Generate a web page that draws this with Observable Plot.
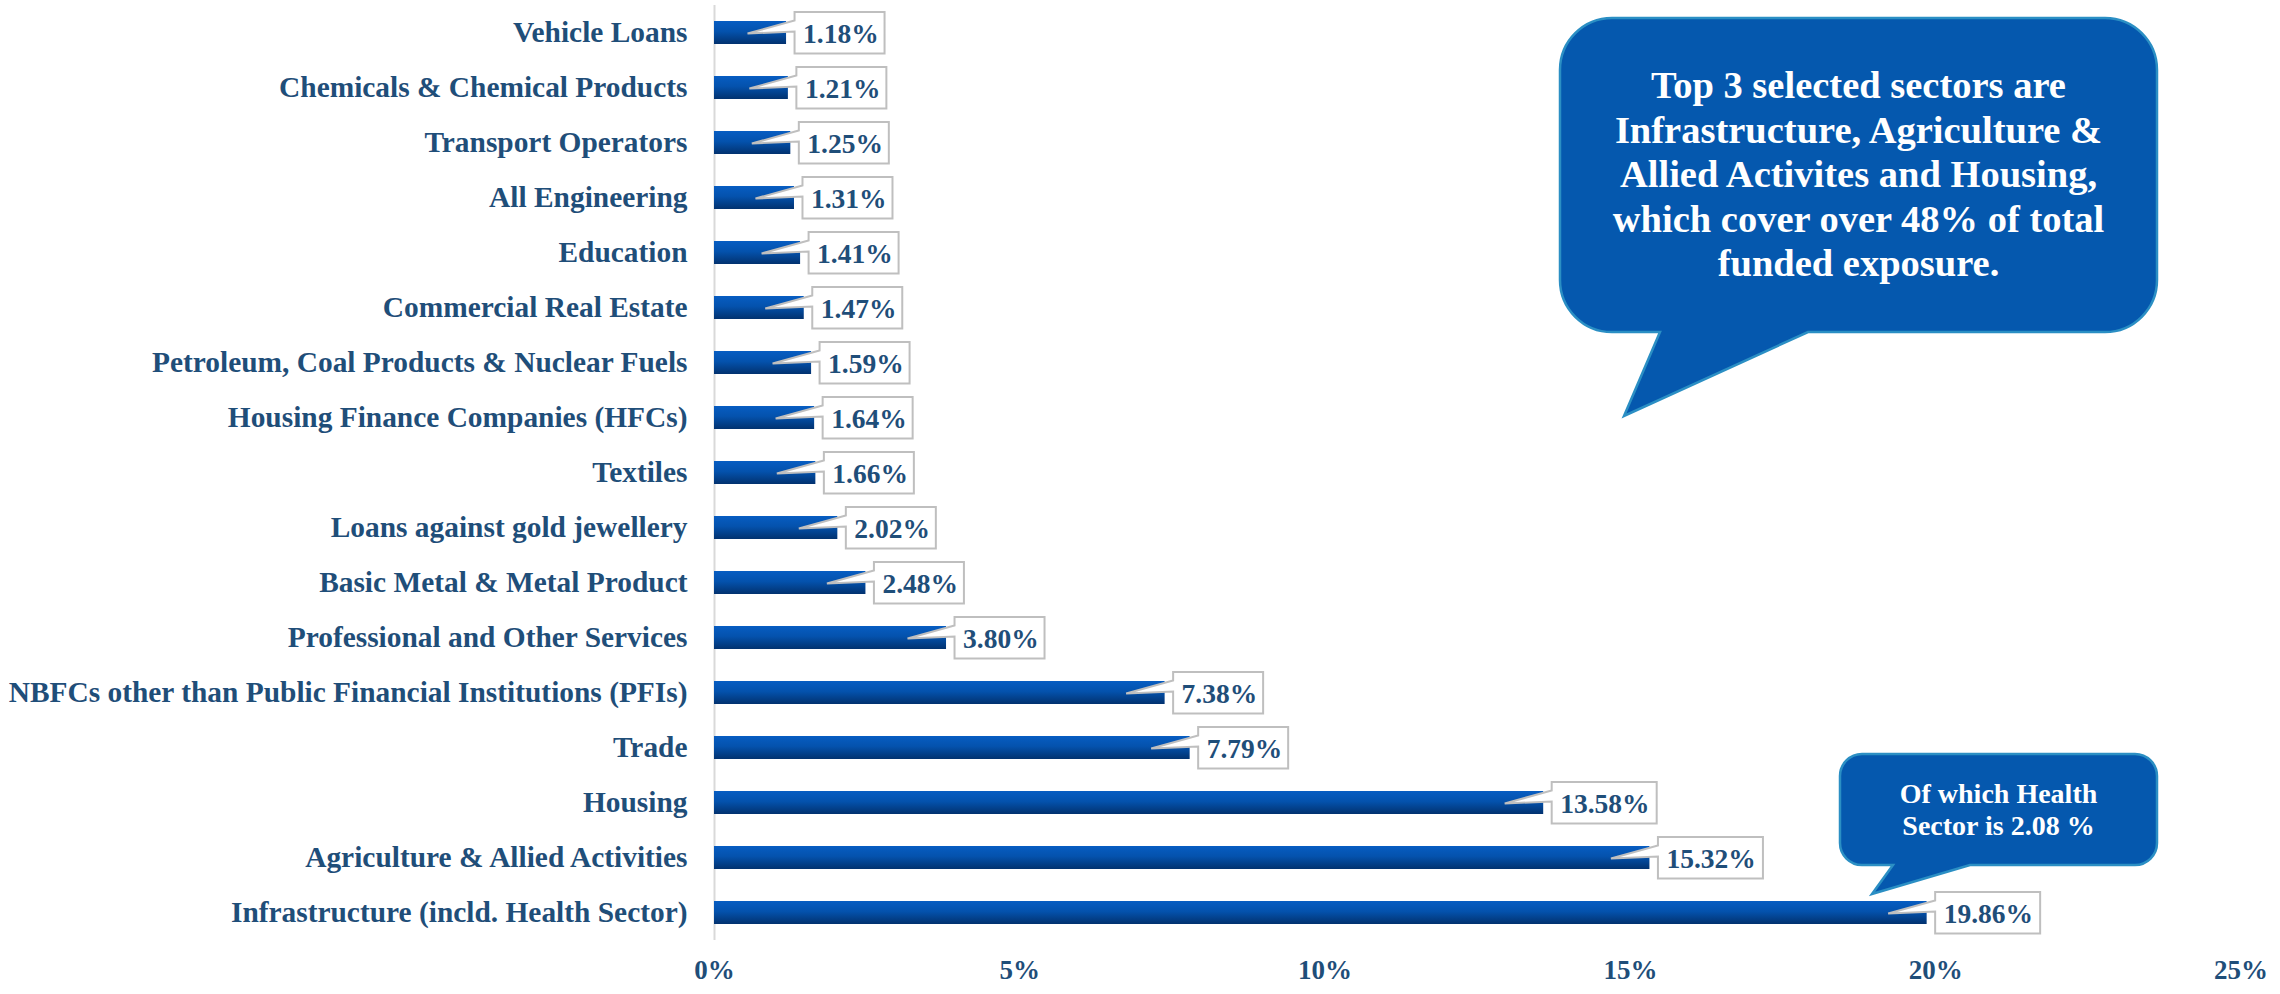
<!DOCTYPE html>
<html><head><meta charset="utf-8">
<script src="https://cdn.jsdelivr.net/npm/d3@7"></script>
<script src="https://cdn.jsdelivr.net/npm/@observablehq/plot@0.6"></script>
<style>
html,body{margin:0;padding:0;background:#fff;}
#chart{width:2280px;height:994px;}
svg{display:block}
</style></head><body><div id="chart"></div>
<script>
const sectors = [
  "Vehicle Loans",
  "Chemicals & Chemical Products",
  "Transport Operators",
  "All Engineering",
  "Education",
  "Commercial Real Estate",
  "Petroleum, Coal Products & Nuclear Fuels",
  "Housing Finance Companies (HFCs)",
  "Textiles",
  "Loans against gold jewellery",
  "Basic Metal & Metal Product",
  "Professional and Other Services",
  "NBFCs other than Public Financial Institutions (PFIs)",
  "Trade",
  "Housing",
  "Agriculture & Allied Activities",
  "Infrastructure (incld. Health Sector)"
];
const shares = [1.18, 1.21, 1.25, 1.31, 1.41, 1.47, 1.59, 1.64, 1.66, 2.02, 2.48, 3.80, 7.38, 7.79, 13.58, 15.32, 19.86];
const xTicks = [0, 5, 10, 15, 20, 25];
const mainNote = [
  "Top 3 selected sectors are",
  "Infrastructure, Agriculture &",
  "Allied Activites and Housing,",
  "which cover over 48% of total",
  "funded exposure."
];
const healthNote = ["Of which Health", "Sector is 2.08 %"];

const rows = sectors.map((s, i) => ({sector: s, share: shares[i], label: shares[i].toFixed(2) + "%"}));
const FONT = "'Liberation Serif', 'Times New Roman', serif";
const TXT = "#1F4E79";

// callout-shaped label box (rectangle with a wedge pointing back into the bar end)
function labelBox(w) {
  return {
    draw(ctx) {
      ctx.moveTo(8, -21);
      ctx.lineTo(8 + w, -21);
      ctx.lineTo(8 + w, 20.5);
      ctx.lineTo(8, 20.5);
      ctx.lineTo(8, -1.5);
      ctx.lineTo(-39, 0.5);
      ctx.lineTo(8, -12.5);
      ctx.closePath();
    }
  };
}

const defs = () => {
  const g = d3.create("svg:defs");
  const lg = g.append("linearGradient").attr("id", "barGrad")
    .attr("x1", 0).attr("y1", 0).attr("x2", 0).attr("y2", 1);
  lg.append("stop").attr("offset", "0%").attr("stop-color", "#075dc2");
  lg.append("stop").attr("offset", "45%").attr("stop-color", "#0452ad");
  lg.append("stop").attr("offset", "100%").attr("stop-color", "#02326f");
  return g.node();
};

function callout(box, tail, lines, fs, lh, firstBaseline) {
  return () => {
    const [x0, y0, x1, y1, r] = box;
    const [tl, tr, tx, ty] = tail;
    const p = d3.path();
    p.moveTo(x0 + r, y0);
    p.lineTo(x1 - r, y0);
    p.arcTo(x1, y0, x1, y0 + r, r);
    p.lineTo(x1, y1 - r);
    p.arcTo(x1, y1, x1 - r, y1, r);
    p.lineTo(tr, y1);
    p.lineTo(tx, ty);
    p.lineTo(tl, y1);
    p.lineTo(x0 + r, y1);
    p.arcTo(x0, y1, x0, y1 - r, r);
    p.lineTo(x0, y0 + r);
    p.arcTo(x0, y0, x0 + r, y0, r);
    p.closePath();
    const g = d3.create("svg:g");
    g.append("path").attr("d", p.toString()).attr("fill", "#0558ae")
      .attr("stroke", "#2b8fc4").attr("stroke-width", 2.5).attr("stroke-linejoin", "miter");
    const t = g.append("text").attr("font-family", FONT).attr("font-weight", "bold")
      .attr("font-size", fs).attr("fill", "white").attr("text-anchor", "middle");
    lines.forEach((l, i) => t.append("tspan").attr("x", (x0 + x1) / 2).attr("y", firstBaseline + i * lh).text(l));
    return g.node();
  };
}

const chart = Plot.plot({
  width: 2280,
  height: 994,
  marginLeft: 714,
  marginRight: 39.5,
  marginTop: 5,
  marginBottom: 54,
  style: {fontFamily: FONT, background: "white", color: TXT, overflow: "visible"},
  x: {domain: [0, 25], label: null},
  y: {domain: sectors, paddingInner: 0.59, paddingOuter: 0.295, label: null},
  marks: [
    defs,
    Plot.ruleX([0], {stroke: "#d9d9d9", strokeWidth: 2}),
    Plot.barX(rows, {x: "share", y: "sector", fill: "url(#barGrad)"}),
    Plot.dot(rows.filter(d => d.label.length <= 5), {x: "share", y: "sector", symbol: labelBox(90), fill: "white", stroke: "#bfbfbf", strokeWidth: 2}),
    Plot.dot(rows.filter(d => d.label.length > 5), {x: "share", y: "sector", symbol: labelBox(105), fill: "white", stroke: "#bfbfbf", strokeWidth: 2}),
    Plot.text(rows, {x: "share", y: "sector", text: "label", dx: 16.5, dy: 1.5, textAnchor: "start", fill: TXT, fontSize: 27.5, fontWeight: "bold"}),
    Plot.axisY({tickSize: 0, tickPadding: 27, fontSize: 29.4, fontWeight: "bold", label: null}),
    Plot.axisX({ticks: xTicks, tickFormat: d => d + "%", tickSize: 0, tickPadding: 19, fontSize: 27, fontWeight: "bold", label: null}),
    callout([1560, 18, 2157, 332, 52], [1660, 1808, 1624, 416], mainNote, 38.5, 44.5, 98),
    callout([1840, 754, 2157, 865, 22], [1893, 1970, 1872, 894], healthNote, 28, 32, 803)
  ]
});
document.getElementById("chart").appendChild(chart);
</script>
</body></html>
